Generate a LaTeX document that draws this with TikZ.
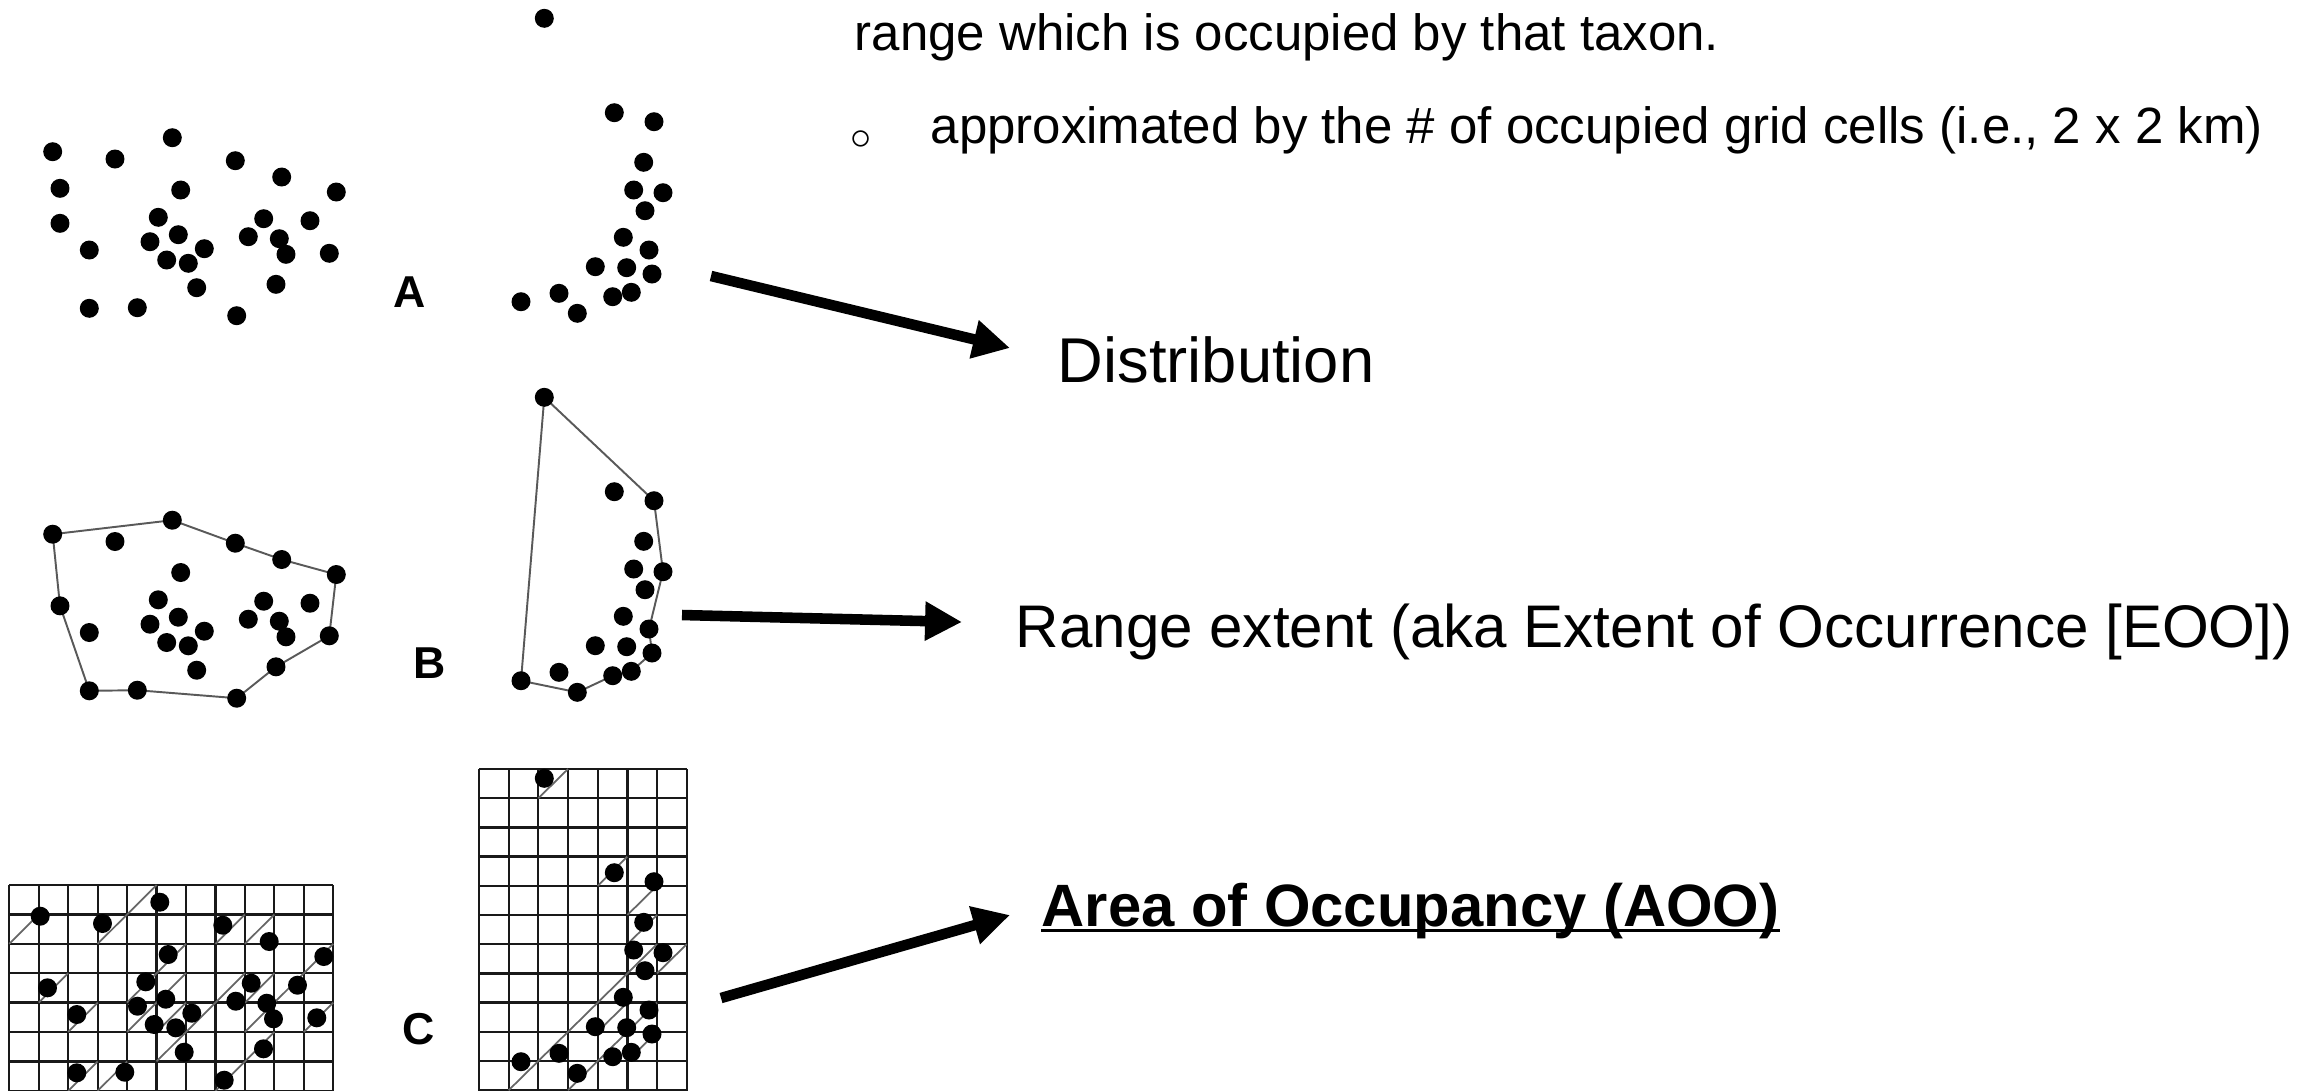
\documentclass[tikz,border=0pt]{standalone}
\usepackage{fontspec}
\setmainfont{Liberation Sans}
\usetikzlibrary{arrows.meta}

% dot positions of the two samples (panel A, picture pixels)
\newcommand{\dotsleft}{52.7/151.7, 115/159, 172.3/137.7, 235.3/160.7, 281.7/177, 336.3/192,
  180.7/190, 60/223.3, 158.3/217.3, 178.3/234.7, 150/241.7, 204.3/248.7, 166.7/260,
  188.3/263.3, 196.7/287.7, 89.3/250, 263.7/218.7, 310/220.7, 248.3/236.7, 279.3/238.7,
  286/254.3, 329.3/253.3, 276/284.3, 89.3/308.3, 137.3/307.7, 236.7/315.7}
\newcommand{\dotsright}{544.3/18.3, 614.3/112.7, 654/121.7, 643.7/162.3, 633.7/190, 663/192.7,
  645/210.7, 623.3/237.3, 649/250, 595.3/266.7, 626.7/267.7, 652/274, 631.3/292.3,
  612.7/296.7, 559/293.3, 521/301.7, 577.3/313.3}

\begin{document}
\begin{tikzpicture}[x=0.01cm,y=-0.01cm,
    hull/.style={draw=black!65,line width=0.55pt},
    gridln/.style={draw=black!90,line width=0.65pt},
    hatch/.style={draw=black!60,line width=0.5pt},
    bigarrow/.style={line width=3pt,-{Triangle[length=10.5pt,width=10.5pt]}},
    txt/.style={inner sep=0pt,anchor=base west},
    panel/.style={inner sep=0pt,anchor=base west,font=\bfseries\fontsize{12.7}{15}\selectfont}]
  \useasboundingbox (0,0) rectangle (2321,1090);

  % A: the points
  \foreach \x/\y in \dotsleft {
      \fill (\x,\y) circle (2.7pt);
    }
  \fill (60,188.3) circle (2.7pt);
  \foreach \x/\y in \dotsright {
      \fill (\x,\y) circle (2.7pt);
    }

  % B: hulls
  \begin{scope}[shift={(0,382.5)}]
    \draw[hull] (52.7,151.7) -- (172.3,137.7) -- (235.3,160.7) -- (281.7,177) -- (336.3,192)
      -- (329.3,253.3) -- (276,284.3) -- (236.7,315.7) -- (137.3,307.7) -- (89.3,308.3)
      -- (60,223.3) -- cycle;
    \foreach \x/\y in \dotsleft {
        \fill (\x,\y) circle (2.7pt);
      }
  \end{scope}
  \begin{scope}[shift={(0,379)}]
    \draw[hull] (544.3,18.3) -- (654,121.7) -- (663,192.7) -- (649,250) -- (652,274)
      -- (631.3,292.3) -- (612.7,296.7) -- (577.3,313.3) -- (521,301.7) -- cycle;
    \foreach \x/\y in \dotsright {
        \fill (\x,\y) circle (2.7pt);
      }
  \end{scope}

  % C: grids with occupied cells
  \foreach \i in {0,...,11} {
      \draw[gridln] ({9.3+\i*29.45},885) -- ++(0,210);
    }
  \foreach \j in {0,...,7} {
      \draw[gridln] (9.3,{885+\j*29.4}) -- (333.3,{885+\j*29.4});
    }
  \foreach \c/\r in {0/1,3/1,4/0,7/1,8/1,10/2,1/3,5/2,4/3,5/3,4/4,6/4,5/4,5/5,2/4,
      8/3,9/3,7/3,8/4,10/4,8/5,2/6,3/6,7/6} {
      \draw[hatch] ({9.3+\c*29.45},{885+(\r+1)*29.4}) -- ++(29.45,-29.4);
    }
  \begin{scope}[shift={(-12.5,764.5)}]
    \foreach \x/\y in \dotsleft {
        \fill (\x,\y) circle (2.7pt);
      }
  \end{scope}

  \foreach \i in {0,...,7} {
      \draw[gridln] ({479+\i*29.67},769) -- ++(0,330);
    }
  \foreach \j in {0,...,11} {
      \draw[gridln] (479,{769+\j*29.2}) -- (686.7,{769+\j*29.2});
    }
  \foreach \c/\r in {2/0,4/3,5/4,5/5,5/6,6/6,4/7,5/8,3/8,4/8,5/9,4/9,2/9,1/10,3/10} {
      \draw[hatch] ({479+\c*29.67},{769+(\r+1)*29.2}) -- ++(29.67,-29.2);
    }
  \begin{scope}[shift={(0,760)}]
    \foreach \x/\y in \dotsright {
        \fill (\x,\y) circle (2.7pt);
      }
  \end{scope}

  \node[panel] (labA) at (392.7,307) {A};
  \node[panel] (labB) at (413,678) {B};
  \node[panel] (labC) at (401.7,1044) {C};

  % text on the right
  \node[txt,font=\fontsize{14.5}{17}\selectfont] (top) at (854,50)
    {range which is occupied by that taxon.};
  \node[inner sep=0pt,font=\fontsize{12}{14}\selectfont] (bul) at (861,140) {$\circ$};
  \node[txt,font=\fontsize{14.5}{17}\selectfont] (grid) at (930,143)
    {approximated by the \# of occupied grid cells (i.e., 2 x 2 km)};
  \node[txt,font=\fontsize{18}{21}\selectfont] (dist) at (1057,382) {Distribution};
  \node[txt,font=\fontsize{17.1}{21}\selectfont] (eoo) at (1015,647)
    {Range extent (aka Extent of Occurrence [EOO])};
  \node[txt,font=\bfseries\fontsize{17}{21}\selectfont] (aoo) at (1041,926)
    {Area of Occupancy (AOO)};
  \draw[line width=0.75pt] ([yshift=-1.2pt]aoo.base west) -- ([yshift=-1.2pt]aoo.base east);

  % arrows
  \coordinate (tailA) at (711,276);
  \coordinate (tipA) at (1010,348);
  \coordinate (tailB) at (682,615);
  \coordinate (tipB) at (962,622);
  \coordinate (tailC) at (721,998);
  \coordinate (tipC) at (1010,915);
  \draw[bigarrow] (tailA) -- (tipA);
  \draw[bigarrow] (tailB) -- (tipB);
  \draw[bigarrow] (tailC) -- (tipC);
\end{tikzpicture}
\end{document}
